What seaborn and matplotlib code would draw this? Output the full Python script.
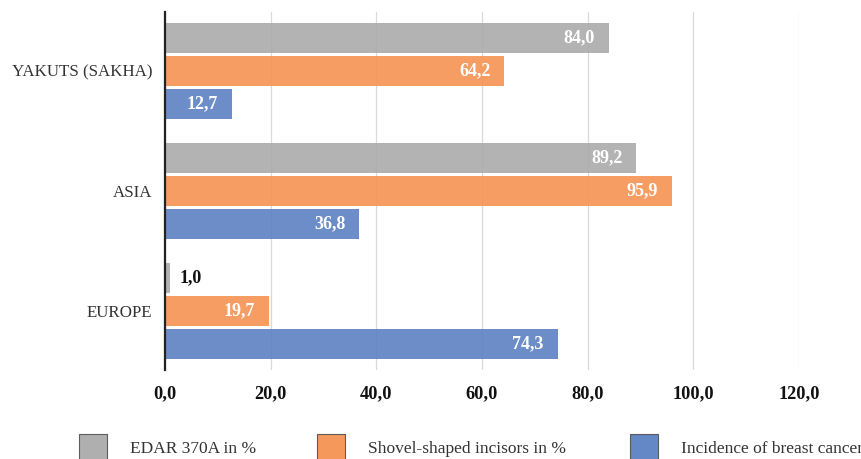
import matplotlib
matplotlib.use("Agg")
import matplotlib.pyplot as plt
from matplotlib.patches import Patch
import seaborn as sns
import pandas as pd

categories = ["YAKUTS (SAKHA)", "ASIA", "EUROPE"]
series_names = ["EDAR 370A in %", "Shovel-shaped incisors in %", "Incidence of breast cancer"]
edar = [84.0, 89.2, 1.0]
shovel = [64.2, 95.9, 19.7]
cancer = [12.7, 36.8, 74.3]
xticks = [0, 20, 40, 60, 80, 100, 120]

colors = ["#aaabaa", "#f59353", "#5c81c2"]

rows = []
for name, vals in zip(series_names, [edar, shovel, cancer]):
    for c, v in zip(categories, vals):
        rows.append({"category": c, "series": name, "value": v})
df = pd.DataFrame(rows)

sns.set_style("white")
plt.rcParams["font.family"] = ["Liberation Serif", "DejaVu Serif"]

fig = plt.figure(figsize=(8.62, 4.59), dpi=100)
ax = fig.add_axes([165/862, 1-370/459, (799-165)/862, (370-12)/459])

sns.barplot(data=df, y="category", x="value", hue="series", order=categories,
            hue_order=series_names, palette=colors, saturation=1, orient="h",
            width=0.825, gap=0.09, alpha=0.9, edgecolor="none", legend=False,
            ax=ax, zorder=2)

ax.set_xlim(0, 120)
ax.set_ylim(2.49, -0.49)
ax.set_xticks(xticks)
ax.set_xticklabels([f"{t:.1f}".replace(".", ",") for t in xticks], fontweight="bold",
                   fontsize=13.2, color="#111111")
ax.tick_params(axis="x", length=0, pad=11)
ax.tick_params(axis="y", length=0, pad=9, labelsize=12.2, labelcolor="#333333")
ax.set_xlabel("")
ax.set_ylabel("")
ax.grid(axis="x", color="#d9d9d9", linewidth=0.9, zorder=0)
ax.set_axisbelow(True)
for s in ["top", "right", "bottom"]:
    ax.spines[s].set_visible(False)
ax.spines["left"].set_color("#222222")
ax.spines["left"].set_linewidth(1.6)
ax.spines["left"].set_zorder(5)

for cont in ax.containers:
    vals = cont.datavalues
    inside = [f"{v:.1f}".replace(".", ",") if v >= 5 else "" for v in vals]
    outside = [f"{v:.1f}".replace(".", ",") if v < 5 else "" for v in vals]
    ax.bar_label(cont, labels=inside, label_type="edge", padding=-10, color="white",
                 fontweight="bold", fontsize=13)
    ax.bar_label(cont, labels=outside, label_type="edge", padding=7, color="#111111",
                 fontweight="bold", fontsize=13)

for t in ax.texts:
    if t.get_color() == "white":
        t.set_ha("right")

lx = [79, 317, 630]
for x, name, col in zip(lx, series_names, colors):
    h = Patch(facecolor=col, edgecolor="#555555", linewidth=0.8, alpha=0.95)
    fig.legend(handles=[h], labels=[name], loc="center left",
               bbox_to_anchor=(x/862, 1-447/459), frameon=False, fontsize=12.5,
               handlelength=1.6, handleheight=1.85, handletextpad=1.35, borderpad=0,
               borderaxespad=0, labelcolor="#333333")

fig.savefig("out.png", dpi=100)
